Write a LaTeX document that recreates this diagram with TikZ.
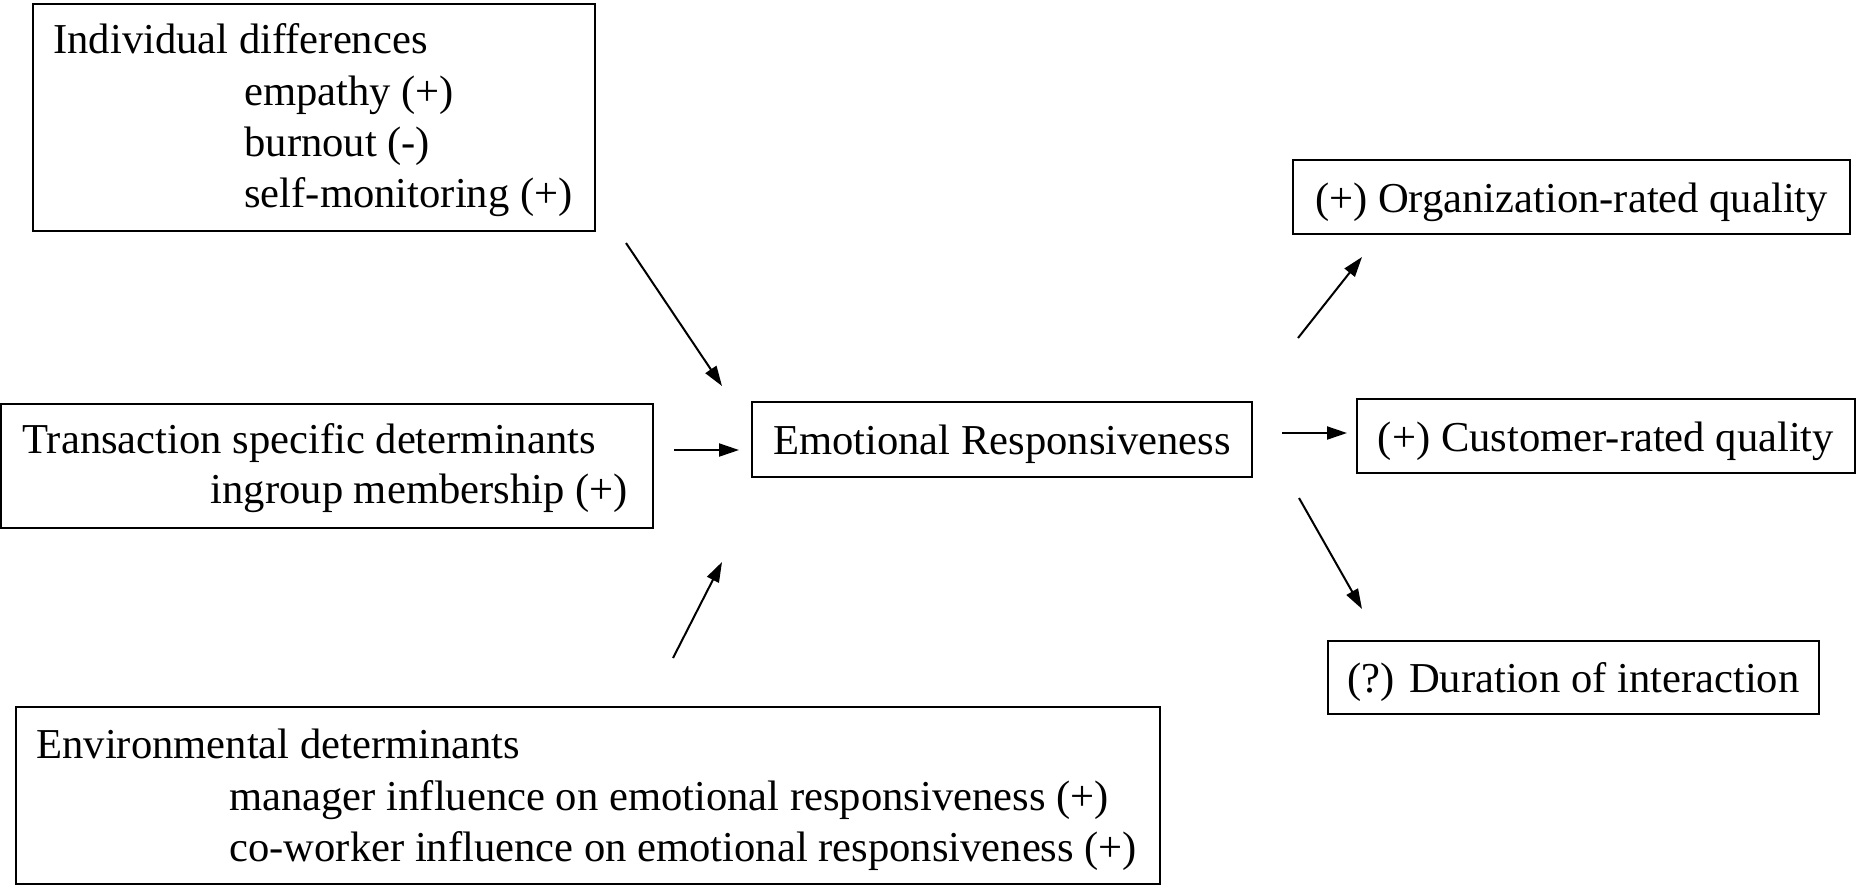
\documentclass[tikz,border=0pt]{standalone}
\usepackage{fontspec}
\setmainfont{Liberation Serif}
\usetikzlibrary{arrows.meta}
\begin{document}
\begin{tikzpicture}[x=0.5pt,y=-0.5pt,
  font=\fontsize{21.3}{25.75}\selectfont,
  box/.style={draw,line width=1.2pt,inner sep=0pt,anchor=north west},
  onebox/.style={draw,line width=1.2pt,inner sep=0pt,text height=16.3pt,text depth=1.3pt},
  lbl/.style={inner sep=0pt,anchor=base west},
  arr/.style={line width=1pt,-{Triangle[length=10pt,width=6.5pt]}}]
\useasboundingbox (0,0) rectangle (1856,885);
% boxes with several lines
\node[box,minimum width=281pt,minimum height=113.5pt] (ind) at (32,3) {};
\node[lbl] (indh) at (53,53) {Individual differences};
\node[lbl] (ind1) at (244,105) {empathy (+)};
\node[lbl] (ind2) at (244,156) {burnout (-)};
\node[lbl] (ind3) at (244,207) {self-monitoring (+)};
\node[box,minimum width=326pt,minimum height=62pt] (tr) at (0,403) {};
\node[lbl] (trh) at (22,453) {Transaction specific determinants};
\node[inner sep=0pt,anchor=base east] (tr1) at (628,503) {ingroup membership (+)};
\node[box,minimum width=572pt,minimum height=88.5pt] (env) at (15,706) {};
\node[lbl] (envh) at (36,758) {Environmental determinants};
\node[lbl] (env1) at (229,810) {manager influence on emotional responsiveness (+)};
\node[lbl] (env2) at (229,861) {co-worker influence on emotional responsiveness (+)};
% single-line boxes
\node[onebox,minimum width=250pt,minimum height=37.5pt] (er) at (1002,439.5) {Emotional Responsiveness};
\node[onebox,minimum width=278.5pt,minimum height=37pt] (org) at (1571.5,197) {(+) Organization-rated quality};
\node[onebox,minimum width=249pt,minimum height=37pt] (cust) at (1606,436) {(+) Customer-rated quality};
\node[onebox,minimum width=245.5pt,minimum height=36.5pt] (dur) at (1573.5,677.5) {(?) Duration of interaction};
% arrow ends
\coordinate (a1s) at (626,243);
\coordinate (a1e) at (722,386);
\coordinate (a2s) at (674,450);
\coordinate (a2e) at (739,450);
\coordinate (a3s) at (673,658);
\coordinate (a3e) at (722,562);
\coordinate (b1s) at (1298,338);
\coordinate (b1e) at (1362,257);
\coordinate (b2s) at (1282,433);
\coordinate (b2e) at (1347,433);
\coordinate (b3s) at (1299,498);
\coordinate (b3e) at (1362,609);
\draw[arr] (a1s) -- (a1e);
\draw[arr] (a2s) -- (a2e);
\draw[arr] (a3s) -- (a3e);
\draw[arr] (b1s) -- (b1e);
\draw[arr] (b2s) -- (b2e);
\draw[arr] (b3s) -- (b3e);
\end{tikzpicture}
\end{document}
